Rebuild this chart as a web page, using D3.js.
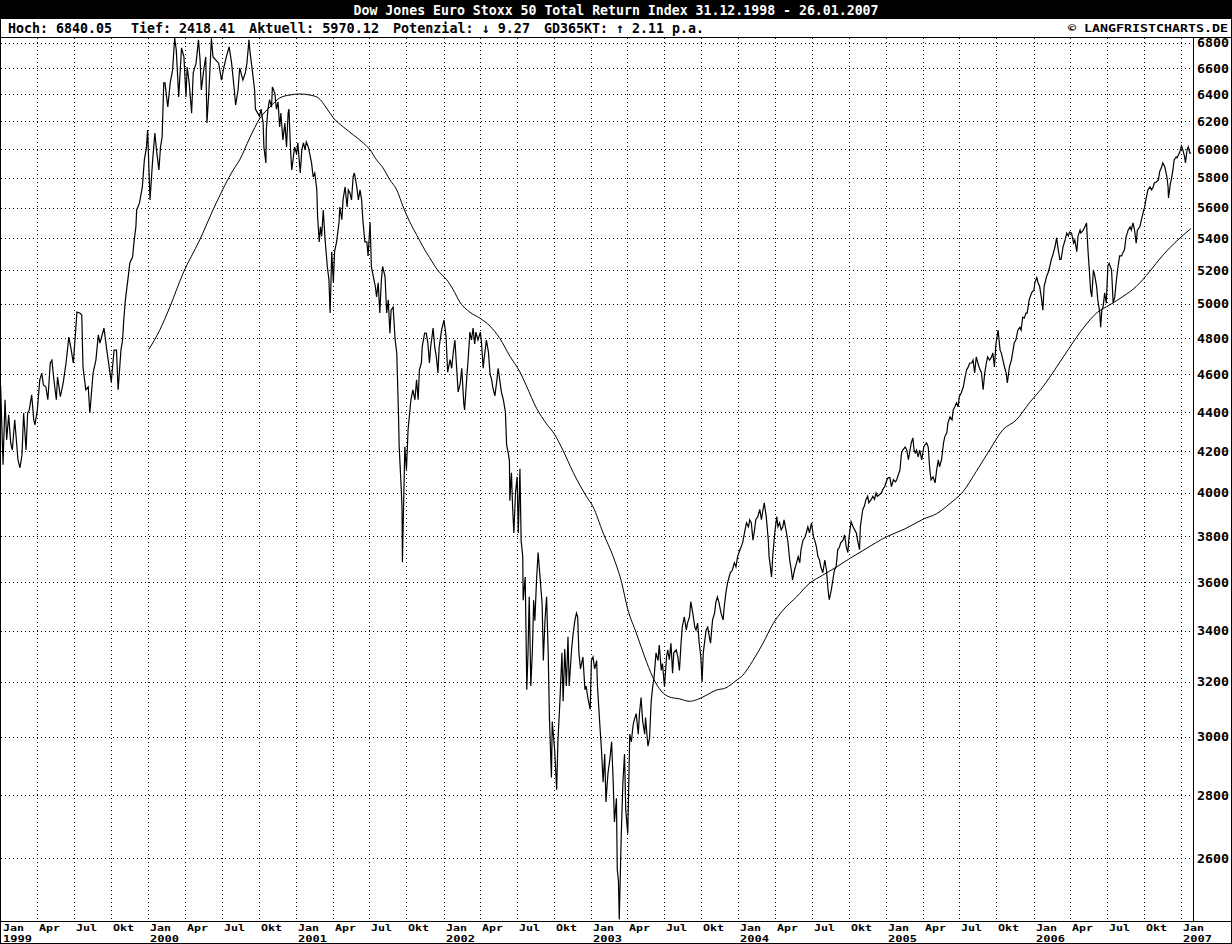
<!DOCTYPE html>
<html><head><meta charset="utf-8">
<script src="https://cdn.jsdelivr.net/npm/d3@7"></script>
<style>
html,body{margin:0;padding:0;background:#fff;}
svg{display:block;}
text{font-family:"DejaVu Sans Mono",monospace;font-weight:bold;}
</style></head><body>
<svg id="c" width="1232" height="944"></svg>
<script>
const titleText = "Dow Jones Euro Stoxx 50 Total Return Index 31.12.1998 - 26.01.2007";
const statTexts = ["Hoch: 6840.05", "Tief: 2418.41", "Aktuell: 5970.12", "Potenzial: \u2193 9.27", "GD365KT: \u2191 2.11 p.a."];
const sourceText = "\u00A9 LANGFRISTCHARTS.DE";
const yTicks = [2600,2800,3000,3200,3400,3600,3800,4000,4200,4400,4600,4800,5000,5200,5400,5600,5800,6000,6200,6400,6600,6800];
const monthLabels = ["Jan","Apr","Jul","Okt"];

const price1999 = [["1998-12-31",4543],["1999-01-06",4135],["1999-01-11",4464],["1999-01-15",4258],["1999-01-20",4385],["1999-01-25",4243],["1999-01-29",4207],["1999-02-04",4360],["1999-02-09",4233],["1999-02-12",4159],["1999-02-17",4120],["1999-02-22",4183],["1999-02-26",4395],["1999-03-04",4207],["1999-03-08",4395],["1999-03-12",4411],["1999-03-18",4490],["1999-03-23",4360],["1999-03-26",4334],["1999-04-01",4411],["1999-04-07",4570],["1999-04-12",4607],["1999-04-16",4543],["1999-04-22",4533],["1999-04-27",4464],["1999-05-03",4662],["1999-05-07",4678],["1999-05-12",4570],["1999-05-18",4464],["1999-05-21",4586],["1999-05-28",4480],["1999-06-04",4554],["1999-06-11",4662],["1999-06-18",4807],["1999-06-24",4733],["1999-06-29",4662],["1999-07-05",4846],["1999-07-08",4951],["1999-07-15",4945],["1999-07-20",4934],["1999-07-23",4640],["1999-07-30",4517],["1999-08-05",4533],["1999-08-09",4395],["1999-08-17",4607],["1999-08-24",4678],["1999-08-30",4819],["1999-09-03",4773],["1999-09-07",4807],["1999-09-13",4858],["1999-09-20",4733],["1999-09-28",4607],["1999-10-01",4559],["1999-10-08",4733],["1999-10-14",4733],["1999-10-18",4517],["1999-10-25",4733],["1999-10-29",4790],["1999-11-01",4904],["1999-11-05",5022],["1999-11-12",5160],["1999-11-16",5246],["1999-11-23",5284],["1999-11-26",5370],["1999-12-01",5474],["1999-12-03",5584],["1999-12-10",5631],["1999-12-17",5738],["1999-12-22",5924],["1999-12-27",6008],["1999-12-30",6137]];
const price2000 = [["2000-01-05",5651],["2000-01-11",5903],["2000-01-17",6115],["2000-01-21",5994],["2000-01-27",5854],["2000-01-31",6015],["2000-02-04",6087],["2000-02-08",6487],["2000-02-11",6487],["2000-02-18",6305],["2000-02-24",6487],["2000-03-01",6587],["2000-03-06",6840.05],["2000-03-10",6745],["2000-03-16",6381],["2000-03-23",6760],["2000-03-29",6689],["2000-04-03",6381],["2000-04-06",6610],["2000-04-11",6487],["2000-04-17",6260],["2000-04-21",6564],["2000-04-28",6640],["2000-05-04",6825],["2000-05-08",6664],["2000-05-11",6433],["2000-05-17",6587],["2000-05-22",6689],["2000-05-25",6187],["2000-05-30",6433],["2000-06-05",6838],["2000-06-09",6689],["2000-06-16",6664],["2000-06-23",6640],["2000-06-30",6509],["2000-07-06",6610],["2000-07-12",6689],["2000-07-19",6770],["2000-07-25",6640],["2000-07-31",6456],["2000-08-04",6320],["2000-08-10",6433],["2000-08-14",6602],["2000-08-22",6509],["2000-08-28",6564],["2000-09-01",6640],["2000-09-06",6825],["2000-09-08",6745],["2000-09-15",6564],["2000-09-20",6433],["2000-09-22",6290],["2000-10-02",6238],["2000-10-06",6290],["2000-10-11",6187],["2000-10-13",6015],["2000-10-18",5903],["2000-10-19",6137],["2000-10-23",6290],["2000-10-27",6360],["2000-11-01",6305],["2000-11-03",6456],["2000-11-09",6410],["2000-11-13",6290],["2000-11-17",6342],["2000-11-21",6158],["2000-11-24",6260],["2000-11-29",6065],["2000-12-04",6187],["2000-12-08",6015],["2000-12-12",6260],["2000-12-14",6290],["2000-12-18",5994],["2000-12-21",5854],["2000-12-28",6015]];
const price2001 = [["2001-01-02",5966],["2001-01-05",6044],["2001-01-11",5833],["2001-01-15",5994],["2001-01-19",6044],["2001-01-23",5994],["2001-01-26",6051],["2001-01-31",6015],["2001-02-05",5945],["2001-02-08",5903],["2001-02-12",5806],["2001-02-16",5833],["2001-02-21",5718],["2001-02-23",5540],["2001-02-27",5378],["2001-03-02",5474],["2001-03-05",5412],["2001-03-09",5584],["2001-03-13",5412],["2001-03-16",5316],["2001-03-19",5224],["2001-03-23",5145],["2001-03-26",4945],["2001-03-30",5316],["2001-04-03",5125],["2001-04-06",5316],["2001-04-11",5378],["2001-04-17",5503],["2001-04-19",5604],["2001-04-24",5520],["2001-04-27",5651],["2001-05-02",5738],["2001-05-07",5604],["2001-05-10",5718],["2001-05-14",5698],["2001-05-18",5651],["2001-05-22",5806],["2001-05-25",5833],["2001-05-31",5738],["2001-06-04",5651],["2001-06-08",5718],["2001-06-12",5651],["2001-06-15",5520],["2001-06-20",5378],["2001-06-25",5378],["2001-06-28",5290],["2001-07-03",5503],["2001-07-06",5224],["2001-07-11",5162],["2001-07-16",5102],["2001-07-19",5040],["2001-07-23",5125],["2001-07-27",4945],["2001-07-31",5145],["2001-08-03",5224],["2001-08-09",5162],["2001-08-13",4945],["2001-08-17",5022],["2001-08-21",4829],["2001-08-24",4962],["2001-08-29",4980],["2001-09-03",4790],["2001-09-07",4718],["2001-09-11",4411],["2001-09-13",4223],["2001-09-17",4062],["2001-09-20",3935],["2001-09-21",3686],["2001-09-27",4223],["2001-10-01",4110],["2001-10-05",4309],["2001-10-09",4395],["2001-10-12",4464],["2001-10-17",4517],["2001-10-22",4464],["2001-10-26",4570],["2001-10-30",4464],["2001-11-02",4624],["2001-11-07",4662],["2001-11-09",4751],["2001-11-15",4829],["2001-11-19",4829],["2001-11-23",4773],["2001-11-27",4662],["2001-11-30",4751],["2001-12-06",4858],["2001-12-10",4751],["2001-12-14",4696],["2001-12-18",4607],["2001-12-21",4751],["2001-12-27",4846]];
const price2002 = [["2002-01-02",4904],["2002-01-07",4813],["2002-01-11",4612],["2002-01-17",4680],["2002-01-21",4633],["2002-01-25",4722],["2002-01-29",4790],["2002-02-01",4680],["2002-02-06",4506],["2002-02-11",4549],["2002-02-15",4633],["2002-02-20",4442],["2002-02-22",4411],["2002-02-27",4570],["2002-03-04",4722],["2002-03-07",4835],["2002-03-11",4790],["2002-03-15",4858],["2002-03-19",4768],["2002-03-22",4835],["2002-03-27",4790],["2002-04-02",4835],["2002-04-05",4768],["2002-04-09",4633],["2002-04-12",4700],["2002-04-17",4790],["2002-04-22",4722],["2002-04-26",4602],["2002-04-30",4570],["2002-05-03",4528],["2002-05-08",4485],["2002-05-13",4570],["2002-05-16",4633],["2002-05-20",4570],["2002-05-24",4506],["2002-05-29",4464],["2002-06-03",4400],["2002-06-06",4233],["2002-06-10",4193],["2002-06-13",4154],["2002-06-14",3963],["2002-06-18",4096],["2002-06-21",3927],["2002-06-24",3815],["2002-06-28",4000],["2002-07-02",4076],["2002-07-05",3815],["2002-07-09",4115],["2002-07-12",3780],["2002-07-16",3710],["2002-07-17",3524],["2002-07-22",3622],["2002-07-24",3407],["2002-07-26",3171],["2002-07-29",3312],["2002-08-01",3538],["2002-08-05",3185],["2002-08-09",3327],["2002-08-12",3524],["2002-08-15",3440],["2002-08-19",3604],["2002-08-23",3728],["2002-08-27",3640],["2002-09-02",3507],["2002-09-05",3282],["2002-09-09",3440],["2002-09-13",3538],["2002-09-17",3312],["2002-09-20",3069],["2002-09-25",2859],["2002-09-27",3054],["2002-10-03",2953],["2002-10-08",2818],["2002-10-11",2982],["2002-10-16",3128],["2002-10-21",3312],["2002-10-24",3128],["2002-10-28",3327],["2002-11-01",3185],["2002-11-05",3375],["2002-11-08",3185],["2002-11-14",3327],["2002-11-18",3391],["2002-11-22",3440],["2002-11-26",3471],["2002-11-29",3456],["2002-12-02",3312],["2002-12-06",3250],["2002-12-12",3296],["2002-12-17",3171],["2002-12-20",3185],["2002-12-24",3142],["2002-12-30",3098]];
const price2003 = [["2003-01-02",3282],["2003-01-06",3296],["2003-01-10",3250],["2003-01-15",3282],["2003-01-17",3185],["2003-01-23",3039],["2003-01-27",2953],["2003-01-31",2843],["2003-02-04",2939],["2003-02-07",2778],["2003-02-12",2873],["2003-02-17",2925],["2003-02-21",2982],["2003-02-25",2843],["2003-02-28",2713],["2003-03-05",2790],["2003-03-07",2565],["2003-03-10",2530],["2003-03-12",2418.41],["2003-03-17",2676],["2003-03-21",2843],["2003-03-25",2939],["2003-03-28",2752],["2003-04-02",2676],["2003-04-07",3009],["2003-04-11",2982],["2003-04-15",3039],["2003-04-17",3054],["2003-04-23",3083],["2003-04-28",3009],["2003-05-01",3083],["2003-05-05",3142],["2003-05-09",3054],["2003-05-14",3009],["2003-05-16",3069],["2003-05-22",2967],["2003-05-26",2996],["2003-05-30",3128],["2003-06-03",3185],["2003-06-06",3214],["2003-06-11",3312],["2003-06-16",3282],["2003-06-19",3343],["2003-06-24",3244],["2003-06-27",3270],["2003-07-02",3182],["2003-07-07",3296],["2003-07-10",3324],["2003-07-14",3285],["2003-07-18",3350],["2003-07-22",3233],["2003-07-25",3312],["2003-07-31",3324],["2003-08-04",3296],["2003-08-08",3244],["2003-08-12",3350],["2003-08-15",3414],["2003-08-20",3456],["2003-08-25",3402],["2003-08-28",3430],["2003-09-02",3456],["2003-09-05",3518],["2003-09-10",3471],["2003-09-15",3414],["2003-09-18",3402],["2003-09-22",3430],["2003-09-26",3350],["2003-09-30",3296],["2003-10-03",3200],["2003-10-06",3312],["2003-10-09",3350],["2003-10-13",3402],["2003-10-17",3414],["2003-10-21",3375],["2003-10-24",3350],["2003-10-29",3443],["2003-11-03",3471],["2003-11-06",3514],["2003-11-10",3538],["2003-11-14",3514],["2003-11-19",3471],["2003-11-24",3443],["2003-11-27",3498],["2003-12-01",3555],["2003-12-05",3596],["2003-12-09",3622],["2003-12-12",3640],["2003-12-17",3652],["2003-12-22",3683],["2003-12-26",3666],["2003-12-30",3710]];
const price2004 = [["2004-01-05",3741],["2004-01-08",3754],["2004-01-12",3775],["2004-01-16",3815],["2004-01-21",3861],["2004-01-26",3843],["2004-01-29",3875],["2004-02-02",3861],["2004-02-06",3783],["2004-02-10",3829],["2004-02-13",3875],["2004-02-18",3889],["2004-02-23",3922],["2004-02-27",3875],["2004-03-02",3922],["2004-03-05",3953],["2004-03-10",3889],["2004-03-15",3783],["2004-03-17",3710],["2004-03-19",3683],["2004-03-23",3622],["2004-03-26",3710],["2004-03-31",3815],["2004-04-05",3889],["2004-04-08",3843],["2004-04-12",3861],["2004-04-16",3829],["2004-04-20",3843],["2004-04-23",3875],["2004-04-29",3815],["2004-05-03",3770],["2004-05-07",3695],["2004-05-11",3652],["2004-05-14",3609],["2004-05-19",3652],["2004-05-24",3683],["2004-05-28",3710],["2004-06-01",3683],["2004-06-04",3741],["2004-06-09",3783],["2004-06-14",3797],["2004-06-17",3815],["2004-06-21",3843],["2004-06-25",3815],["2004-06-30",3861],["2004-07-05",3797],["2004-07-08",3783],["2004-07-12",3754],["2004-07-16",3710],["2004-07-20",3695],["2004-07-23",3666],["2004-07-28",3640],["2004-08-02",3695],["2004-08-06",3652],["2004-08-10",3567],["2004-08-13",3526],["2004-08-18",3567],["2004-08-23",3622],["2004-08-26",3652],["2004-08-30",3666],["2004-09-03",3741],["2004-09-07",3750],["2004-09-10",3770],["2004-09-16",3783],["2004-09-20",3806],["2004-09-24",3754],["2004-09-28",3728],["2004-10-01",3797],["2004-10-06",3866],["2004-10-11",3843],["2004-10-15",3829],["2004-10-19",3815],["2004-10-22",3783],["2004-10-27",3741],["2004-10-29",3843],["2004-11-04",3922],["2004-11-08",3938],["2004-11-12",3969],["2004-11-16",3984],["2004-11-19",3953],["2004-11-25",3969],["2004-11-29",3984],["2004-12-03",3969],["2004-12-07",3999],["2004-12-10",3984],["2004-12-15",3991],["2004-12-20",3999],["2004-12-23",4014],["2004-12-28",4029]];
const price2005 = [["2005-01-03",4062],["2005-01-06",4072],["2005-01-10",4072],["2005-01-14",4029],["2005-01-19",4062],["2005-01-24",4052],["2005-01-27",4062],["2005-01-31",4086],["2005-02-04",4110],["2005-02-08",4193],["2005-02-11",4207],["2005-02-17",4222],["2005-02-21",4207],["2005-02-25",4159],["2005-03-01",4207],["2005-03-04",4243],["2005-03-08",4268],["2005-03-11",4207],["2005-03-14",4193],["2005-03-17",4207],["2005-03-21",4173],["2005-03-25",4207],["2005-03-30",4159],["2005-04-04",4222],["2005-04-07",4233],["2005-04-11",4243],["2005-04-15",4222],["2005-04-19",4110],["2005-04-22",4062],["2005-04-27",4076],["2005-05-02",4047],["2005-05-06",4110],["2005-05-10",4159],["2005-05-13",4125],["2005-05-18",4159],["2005-05-23",4243],["2005-05-26",4273],["2005-05-31",4293],["2005-06-03",4344],["2005-06-08",4375],["2005-06-13",4360],["2005-06-16",4411],["2005-06-20",4427],["2005-06-24",4448],["2005-06-28",4427],["2005-07-01",4480],["2005-07-06",4501],["2005-07-11",4533],["2005-07-14",4570],["2005-07-19",4624],["2005-07-22",4635],["2005-07-27",4662],["2005-08-01",4662],["2005-08-04",4678],["2005-08-08",4607],["2005-08-12",4696],["2005-08-16",4662],["2005-08-19",4640],["2005-08-25",4607],["2005-08-29",4517],["2005-09-02",4607],["2005-09-06",4662],["2005-09-09",4696],["2005-09-14",4678],["2005-09-19",4696],["2005-09-22",4718],["2005-09-26",4640],["2005-09-30",4773],["2005-10-05",4846],["2005-10-10",4733],["2005-10-13",4718],["2005-10-17",4678],["2005-10-21",4640],["2005-10-25",4607],["2005-10-28",4554],["2005-11-02",4640],["2005-11-07",4678],["2005-11-10",4718],["2005-11-14",4773],["2005-11-18",4790],["2005-11-23",4846],["2005-11-28",4863],["2005-12-01",4846],["2005-12-05",4921],["2005-12-09",4915],["2005-12-13",4945],["2005-12-16",4945],["2005-12-21",5022],["2005-12-27",5064]];
const price2006 = [["2006-01-02",5082],["2006-01-04",5125],["2006-01-09",5156],["2006-01-12",5125],["2006-01-16",5102],["2006-01-20",5040],["2006-01-24",4962],["2006-01-27",5102],["2006-02-02",5162],["2006-02-06",5187],["2006-02-10",5224],["2006-02-14",5268],["2006-02-17",5290],["2006-02-23",5347],["2006-02-27",5403],["2006-03-03",5328],["2006-03-07",5268],["2006-03-10",5268],["2006-03-15",5347],["2006-03-20",5390],["2006-03-24",5434],["2006-03-28",5415],["2006-03-31",5440],["2006-04-05",5434],["2006-04-10",5370],["2006-04-13",5390],["2006-04-18",5316],["2006-04-21",5415],["2006-04-26",5453],["2006-04-28",5434],["2006-05-04",5453],["2006-05-08",5474],["2006-05-12",5500],["2006-05-16",5310],["2006-05-19",5203],["2006-05-22",5082],["2006-05-25",5040],["2006-05-29",5203],["2006-06-02",5162],["2006-06-06",5102],["2006-06-09",5022],["2006-06-14",4945],["2006-06-16",4863],["2006-06-19",4962],["2006-06-22",4980],["2006-06-26",5064],["2006-06-30",5002],["2006-07-04",5231],["2006-07-07",5243],["2006-07-13",5203],["2006-07-17",5002],["2006-07-21",5040],["2006-07-25",5140],["2006-07-28",5203],["2006-08-02",5290],["2006-08-07",5290],["2006-08-10",5310],["2006-08-14",5328],["2006-08-18",5409],["2006-08-23",5453],["2006-08-28",5474],["2006-08-31",5453],["2006-09-04",5500],["2006-09-08",5453],["2006-09-12",5370],["2006-09-15",5453],["2006-09-21",5474],["2006-09-25",5520],["2006-09-29",5565],["2006-10-03",5604],["2006-10-06",5651],["2006-10-11",5718],["2006-10-16",5738],["2006-10-20",5718],["2006-10-24",5738],["2006-10-27",5766],["2006-11-01",5772],["2006-11-06",5786],["2006-11-09",5841],["2006-11-14",5875],["2006-11-17",5903],["2006-11-22",5875],["2006-11-27",5806],["2006-11-30",5738],["2006-12-01",5664],["2006-12-06",5766],["2006-12-08",5786],["2006-12-12",5854],["2006-12-15",5924],["2006-12-20",5945],["2006-12-22",5938],["2006-12-29",5980]];
const price2007 = [["2007-01-02",6022],["2007-01-05",6000],["2007-01-10",5945],["2007-01-12",5903],["2007-01-16",5994],["2007-01-19",6015],["2007-01-23",5973],["2007-01-26",5970.12]];

const movingAvg365 = [["2000-01-02",4737],["2000-01-29",4846],["2000-02-23",4980],["2000-03-27",5183],["2000-05-07",5390],["2000-06-17",5631],["2000-07-29",5854],["2000-08-14",5924],["2000-09-08",6080],["2000-10-03",6222],["2000-10-28",6305],["2000-11-21",6373],["2000-12-16",6395],["2001-01-10",6403],["2001-02-04",6395],["2001-02-25",6373],["2001-03-17",6298],["2001-04-03",6225],["2001-04-28",6158],["2001-05-22",6102],["2001-06-16",6044],["2001-07-03",5994],["2001-07-19",5924],["2001-08-04",5868],["2001-08-21",5786],["2001-09-07",5718],["2001-09-23",5604],["2001-10-09",5507],["2001-10-26",5424],["2001-11-11",5347],["2001-11-27",5280],["2001-12-22",5187],["2002-01-08",5145],["2002-01-25",5082],["2002-02-10",5010],["2002-03-07",4950],["2002-04-01",4915],["2002-04-26",4869],["2002-05-20",4800],["2002-06-14",4700],["2002-07-09",4613],["2002-07-25",4538],["2002-08-19",4420],["2002-09-13",4339],["2002-10-03",4285],["2002-10-24",4204],["2002-11-18",4097],["2002-12-21",3982],["2003-01-06",3935],["2003-01-31",3815],["2003-02-25",3710],["2003-03-17",3604],["2003-04-02",3487],["2003-04-23",3391],["2003-05-14",3296],["2003-06-03",3218],["2003-06-24",3166],["2003-07-14",3144],["2003-08-08",3137],["2003-09-02",3128],["2003-09-22",3135],["2003-10-13",3150],["2003-11-06",3169],["2003-12-01",3178],["2003-12-26",3205],["2004-01-12",3226],["2004-02-06",3282],["2004-03-02",3350],["2004-03-27",3428],["2004-04-20",3482],["2004-05-24",3538],["2004-06-25",3595],["2004-07-28",3630],["2004-08-30",3664],["2004-10-02",3701],["2004-11-12",3745],["2005-01-02",3798],["2005-02-17",3834],["2005-04-03",3878],["2005-05-06",3903],["2005-06-08",3950],["2005-07-10",4005],["2005-08-12",4102],["2005-09-14",4207],["2005-10-17",4309],["2005-11-19",4359],["2005-12-21",4446],["2006-01-24",4533],["2006-02-27",4640],["2006-04-01",4751],["2006-05-04",4858],["2006-06-06",4945],["2006-07-08",4992],["2006-08-10",5042],["2006-09-12",5102],["2006-10-15",5192],["2006-11-17",5294],["2006-12-20",5380],["2007-01-26",5464]];

const parse = d3.utcParse("%Y-%m-%d");
const priceData = [].concat(price1999, price2000, price2001, price2002, price2003, price2004, price2005, price2006, price2007).map(d => ({date: parse(d[0]), value: d[1]}));
const maData = movingAvg365.map(d => ({date: parse(d[0]), value: d[1]}));

const svg = d3.select("#c");
const plotLeft = 0, plotRight = 1193, plotTop = 37, plotBottom = 921;

const x = d3.scaleUtc().domain([parse("1998-12-31"), parse("2007-01-26")]).range([0.6, 1191.1]);
const y = d3.scaleLog().domain([2418.41, 6840.05]).range([919.4, 38]);

svg.append("rect").attr("width", 1232).attr("height", 944).attr("fill", "#fff");

// title bar
svg.append("rect").attr("x", 0).attr("y", 0).attr("width", 1232).attr("height", 19).attr("fill", "#000");
svg.append("text").attr("x", 616).attr("y", 15).attr("text-anchor", "middle").attr("fill", "#fff")
  .attr("font-size", 14).attr("textLength", 525).attr("lengthAdjust", "spacingAndGlyphs").text(titleText);

// stats line
const statX = [8, 131, 249, 393, 544];
const statW = [104, 104, 130, 137, 160];
statTexts.forEach((t, i) => {
  svg.append("text").attr("x", statX[i]).attr("y", 33).attr("font-size", 14)
    .attr("textLength", statW[i]).attr("lengthAdjust", "spacingAndGlyphs").attr("fill", "#000").text(t);
});
svg.append("text").attr("x", 1228).attr("y", 32).attr("text-anchor", "end").attr("font-size", 11)
  .attr("textLength", 160).attr("lengthAdjust", "spacingAndGlyphs").text(sourceText);

// grid
const gridG = svg.append("g").attr("stroke", "#000").attr("stroke-width", 1).attr("stroke-dasharray", "1,3").attr("shape-rendering", "crispEdges");
yTicks.forEach(v => {
  const yy = Math.round(y(v)) + 0.5;
  gridG.append("line").attr("x1", plotLeft + 1).attr("x2", plotRight).attr("y1", yy).attr("y2", yy);
});
const qTicks = d3.utcMonth.every(3).range(parse("1999-01-01"), parse("2007-01-02"));
qTicks.forEach(t => {
  const xx = Math.round(x(t)) + 0.5;
  if (xx > 2) gridG.append("line").attr("x1", xx).attr("x2", xx).attr("y1", plotTop + 1).attr("y2", plotBottom);
});

// frame
const frame = svg.append("g").attr("stroke", "#000").attr("stroke-width", 1).attr("shape-rendering", "crispEdges").attr("fill", "none");
frame.append("line").attr("x1", 0).attr("x2", 1232).attr("y1", plotTop + 0.5).attr("y2", plotTop + 0.5);
frame.append("line").attr("x1", 0).attr("x2", 1232).attr("y1", plotBottom + 0.5).attr("y2", plotBottom + 0.5);
frame.append("line").attr("x1", 0.5).attr("x2", 0.5).attr("y1", 19).attr("y2", 944);
frame.append("line").attr("x1", plotRight + 0.5).attr("x2", plotRight + 0.5).attr("y1", plotTop).attr("y2", plotBottom);
frame.append("line").attr("x1", 1231.5).attr("x2", 1231.5).attr("y1", 19).attr("y2", 944);
frame.append("line").attr("x1", 0).attr("x2", 1232).attr("y1", 943.5).attr("y2", 943.5);

// y labels
yTicks.forEach(v => {
  svg.append("text").attr("x", 1197).attr("y", y(v) + 4.5).attr("font-size", 12)
    .attr("textLength", 32).attr("lengthAdjust", "spacingAndGlyphs").text(v);
});

// x labels
qTicks.forEach(t => {
  const xx = Math.round(x(t)) + 2;
  const m = t.getUTCMonth() / 3;
  svg.append("text").attr("x", xx).attr("y", 930.5).attr("font-size", 9.5)
    .attr("textLength", 21).attr("lengthAdjust", "spacingAndGlyphs").text(monthLabels[m]);
  if (m === 0) {
    svg.append("text").attr("x", xx).attr("y", 942).attr("font-size", 9.5)
      .attr("textLength", 29).attr("lengthAdjust", "spacingAndGlyphs").text(t.getUTCFullYear());
  }
});

// lines
const maLine = d3.line().curve(d3.curveMonotoneX).x(d => x(d.date)).y(d => y(d.value));
svg.append("path").datum(maData).attr("d", maLine).attr("fill", "none").attr("stroke", "#000").attr("stroke-width", 1);
const priceLine = d3.line().x(d => x(d.date)).y(d => y(d.value));
svg.append("path").datum(priceData).attr("d", priceLine).attr("fill", "none").attr("stroke", "#000").attr("stroke-width", 1.2);
</script>
</body></html>
